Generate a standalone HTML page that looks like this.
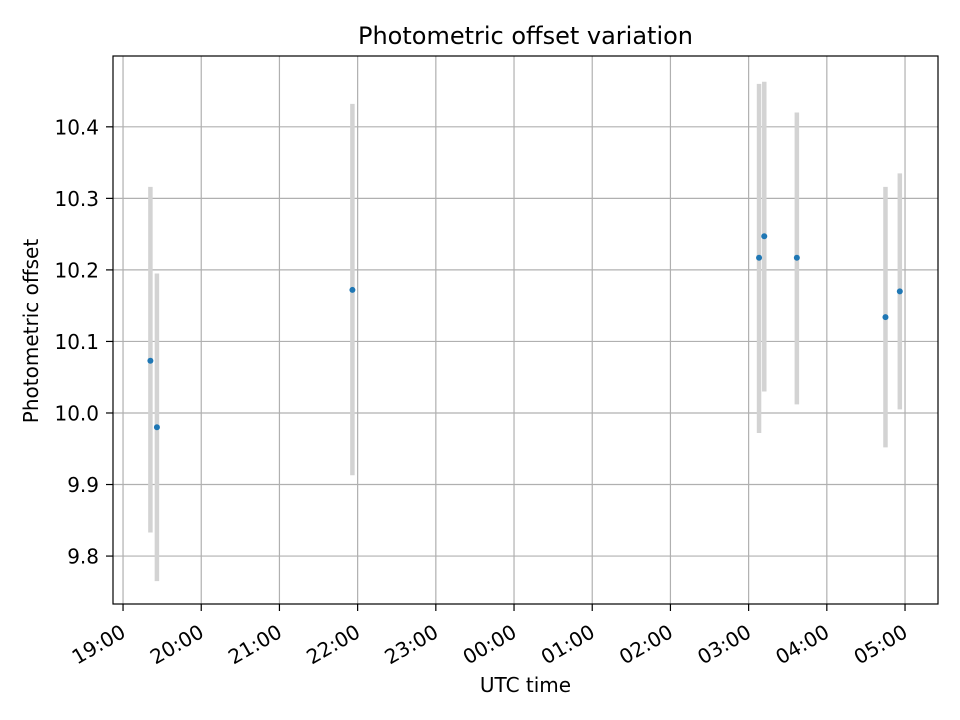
<!DOCTYPE html>
<html><head><meta charset="utf-8"><style>
html,body{margin:0;padding:0;background:#fff;}
svg{display:block;font-family:"DejaVu Sans","Liberation Sans",sans-serif;}
</style></head><body>
<svg id="chart" width="960" height="720" xmlns="http://www.w3.org/2000/svg"></svg>
<script>
const times = ["19:21","19:26","21:56","03:08","03:12","03:37","04:45","04:56"];
const offsets = [10.073, 9.980, 10.172, 10.217, 10.247, 10.217, 10.134, 10.170];
const errLow = [9.833, 9.765, 9.913, 9.972, 10.030, 10.012, 9.952, 10.005];
const errHigh = [10.316, 10.195, 10.432, 10.460, 10.463, 10.420, 10.316, 10.335];
const xTickLabels = ["19:00","20:00","21:00","22:00","23:00","00:00","01:00","02:00","03:00","04:00","05:00"];
const yTicks = [9.8, 9.9, 10.0, 10.1, 10.2, 10.3, 10.4];

const L=113,R=938,T=56,B=604;
const xMin=-7.7,xMax=625.3,yMin=9.733,yMax=10.499;
function toMin(s){let [h,m]=s.split(":").map(Number);let v=(h-19)*60+m;if(v<0)v+=1440;return v;}
const X=v=>L+(v-xMin)/(xMax-xMin)*(R-L);
const Y=v=>B-(v-yMin)/(yMax-yMin)*(B-T);
const svg=document.getElementById('chart');
const NS="http://www.w3.org/2000/svg";
function mk(tag,attrs,parent){const e=document.createElementNS(NS,tag);for(const k in attrs)e.setAttribute(k,attrs[k]);(parent||svg).appendChild(e);return e;}

xTickLabels.forEach(lbl=>{
  const x=X(toMin(lbl));
  const g=mk('line',{x1:x,x2:x,y1:T,y2:B,stroke:'#b0b0b0','stroke-width':1.2});
  
  
  const t=mk('line',{x1:x,x2:x,y1:B,y2:B+7,stroke:'#000','stroke-width':1.2});
  
  
  const ax=x+4, ay=B+32;
  const tx=mk('text',{x:ax,y:ay,'font-size':20,'text-anchor':'end',transform:`rotate(-30 ${ax} ${ay})`});
  tx.textContent=lbl;
  
  
});
yTicks.forEach(v=>{
  const y=Y(v);
  const g=mk('line',{x1:L,x2:R,y1:y,y2:y,stroke:'#b0b0b0','stroke-width':1.2});
  
  
  const t=mk('line',{x1:L-7,x2:L,y1:y,y2:y,stroke:'#000','stroke-width':1.2});
  
  
  const tx=mk('text',{x:L-14,y:y+7.5,'font-size':20,'text-anchor':'end'});
  tx.textContent=v.toFixed(1);
  
  
});
times.forEach((tm,i)=>{
  const x=X(toMin(tm));
  const e=mk('line',{x1:x,x2:x,y1:Y(errLow[i]),y2:Y(errHigh[i]),stroke:'#d3d3d3','stroke-width':4.5});
  
  
});
times.forEach((tm,i)=>{
  const c=mk('circle',{cx:X(toMin(tm)),cy:Y(offsets[i]),r:3,fill:'#1f77b4'});
  
  
});
const frame=mk('rect',{x:L,y:T,width:R-L,height:B-T,fill:'none',stroke:'#000','stroke-width':1.2});


const title=mk('text',{x:(L+R)/2,y:44,'font-size':24,'text-anchor':'middle'});
title.textContent='Photometric offset variation';


const xt=mk('text',{x:(L+R)/2,y:692,'font-size':20,'text-anchor':'middle'});
xt.textContent='UTC time';


const ycx=38, ycy=(T+B)/2+1;
const yt=mk('text',{x:ycx,y:ycy,'font-size':20,'text-anchor':'middle',transform:`rotate(-90 ${ycx} ${ycy})`});
yt.textContent='Photometric offset';


</script>
</body></html>
